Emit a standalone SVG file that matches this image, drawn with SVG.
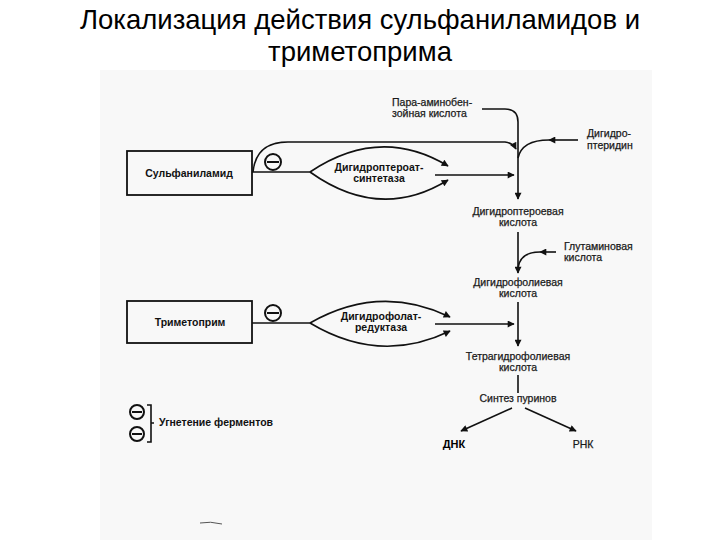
<svg xmlns="http://www.w3.org/2000/svg" width="720" height="540" viewBox="0 0 720 540">
<defs>
<marker id="ah" viewBox="0 0 10 10" refX="9" refY="5" markerWidth="9" markerHeight="7" markerUnits="userSpaceOnUse" orient="auto">
<path d="M0,0 L10,5 L0,10 Z" fill="#111"/>
</marker>
<style>
.t{font-family:"Liberation Sans",Arial,sans-serif;fill:#000}
.title{font-size:27.5px}
.lb{font-size:10.5px;fill:#1a1a1a;stroke:#1a1a1a;stroke-width:0.25}
.bx{font-size:10.5px;font-weight:bold;fill:#111}
.ln{fill:none;stroke:#111;stroke-width:1.6}
.box{fill:none;stroke:#111;stroke-width:1.8}
.minus{fill:none;stroke:#111;stroke-width:2}
</style>
</defs>
<rect x="0" y="0" width="720" height="540" fill="#fff"/>
<rect x="100" y="70" width="552" height="470" fill="#f8f8f8"/>
<g id="title">
<text class="t title" x="360" y="29" text-anchor="middle">Локализация действия сульфаниламидов и</text>
<text class="t title" x="360" y="61" text-anchor="middle">триметоприма</text>
</g>
<g id="sulfanilamid">
<rect class="box" x="127" y="151" width="125" height="44"/>
<text class="t bx" x="189" y="177" text-anchor="middle">Сульфаниламид</text>
</g>
<g id="trimetoprim">
<rect class="box" x="127" y="301" width="125" height="42"/>
<text class="t bx" x="190" y="326" text-anchor="middle">Триметоприм</text>
</g>
<g id="dhps">
<text class="t bx" x="379" y="171" text-anchor="middle">Дигидроптероат-</text>
<text class="t bx" x="379" y="182" text-anchor="middle">синтетаза</text>
</g>
<g id="dhfr">
<text class="t bx" x="381" y="320" text-anchor="middle">Дигидрофолат-</text>
<text class="t bx" x="381" y="331" text-anchor="middle">редуктаза</text>
</g>
<g id="paba">
<text class="t lb" x="392" y="106">Пара-аминобен-</text>
<text class="t lb" x="392" y="117">зойная кислота</text>
</g>
<g id="dihydropteridin">
<text class="t lb" x="587" y="137">Дигидро-</text>
<text class="t lb" x="587" y="149">птеридин</text>
</g>
<g id="dhpa">
<text class="t lb" x="518" y="215" text-anchor="middle">Дигидроптероевая</text>
<text class="t lb" x="518" y="226" text-anchor="middle">кислота</text>
</g>
<g id="glutamic">
<text class="t lb" x="564" y="250">Глутаминовая</text>
<text class="t lb" x="564" y="261">кислота</text>
</g>
<g id="dhfa">
<text class="t lb" x="518" y="286" text-anchor="middle">Дигидрофолиевая</text>
<text class="t lb" x="518" y="297" text-anchor="middle">кислота</text>
</g>
<g id="thfa">
<text class="t lb" x="518" y="360" text-anchor="middle">Тетрагидрофолиевая</text>
<text class="t lb" x="518" y="371" text-anchor="middle">кислота</text>
</g>
<g id="purine">
<text class="t lb" x="518" y="402" text-anchor="middle">Синтез пуринов</text>
</g>
<g id="dna">
<text class="t" x="454" y="448" text-anchor="middle" font-size="11" font-weight="bold">ДНК</text>
</g>
<g id="rna">
<text class="t lb" x="583" y="448" text-anchor="middle" font-size="11">РНК</text>
</g>
<g id="legend">
<circle class="minus" cx="137" cy="412" r="7"/>
<line class="minus" x1="132" y1="412" x2="142" y2="412"/>
<circle class="minus" cx="137" cy="434" r="7"/>
<line class="minus" x1="132" y1="434" x2="142" y2="434"/>
<path class="ln" d="M147,405 L151,405 L151,442 L147,442 M151,423 L154,423" stroke-width="1.3"/>
<text class="t bx" x="159" y="426" font-size="10">Угнетение ферментов</text>
</g>
<g id="connectors">
<line class="ln" x1="252" y1="172" x2="310" y2="172"/>
<path class="ln" d="M253,172 C255,152 266,142 288,142 L505,142 Q513,143 516,149" marker-end="url(#ah)"/>
<circle class="minus" cx="273" cy="162" r="8"/>
<line class="minus" x1="267" y1="162" x2="279" y2="162"/>
<path class="ln" d="M310,172 Q380,125 448,166" marker-end="url(#ah)"/>
<path class="ln" d="M310,172 Q380,222 448,180" marker-end="url(#ah)"/>
<line class="ln" x1="435" y1="175" x2="514" y2="175" marker-end="url(#ah)"/>
<path class="ln" d="M482,109 L505,109 Q518,109 518,122 L518,199" marker-end="url(#ah)"/>
<line class="ln" x1="578" y1="140" x2="549" y2="140" marker-end="url(#ah)"/>
<path class="ln" d="M549,140 Q522,140 518,158"/>
<line class="ln" x1="518" y1="232" x2="518" y2="273" marker-end="url(#ah)"/>
<line class="ln" x1="556" y1="252" x2="540" y2="252" marker-end="url(#ah)"/>
<path class="ln" d="M540,252 Q520,252 518,268"/>
<line class="ln" x1="252" y1="323" x2="310" y2="323"/>
<circle class="minus" cx="273" cy="313" r="8"/>
<line class="minus" x1="267" y1="313" x2="279" y2="313"/>
<path class="ln" d="M310,323 Q380,283 450,317" marker-end="url(#ah)"/>
<path class="ln" d="M310,323 Q380,365 450,331" marker-end="url(#ah)"/>
<line class="ln" x1="435" y1="324" x2="514" y2="324" marker-end="url(#ah)"/>
<line class="ln" x1="518" y1="302" x2="518" y2="346" marker-end="url(#ah)"/>
<line class="ln" x1="518" y1="375" x2="518" y2="393"/>
<line class="ln" x1="512" y1="408" x2="461" y2="431" marker-end="url(#ah)"/>
<line class="ln" x1="525" y1="408" x2="576" y2="431" marker-end="url(#ah)"/>
</g>
<path d="M200,523 Q210,521 222,524" fill="none" stroke="#555" stroke-width="1"/>
</svg>
